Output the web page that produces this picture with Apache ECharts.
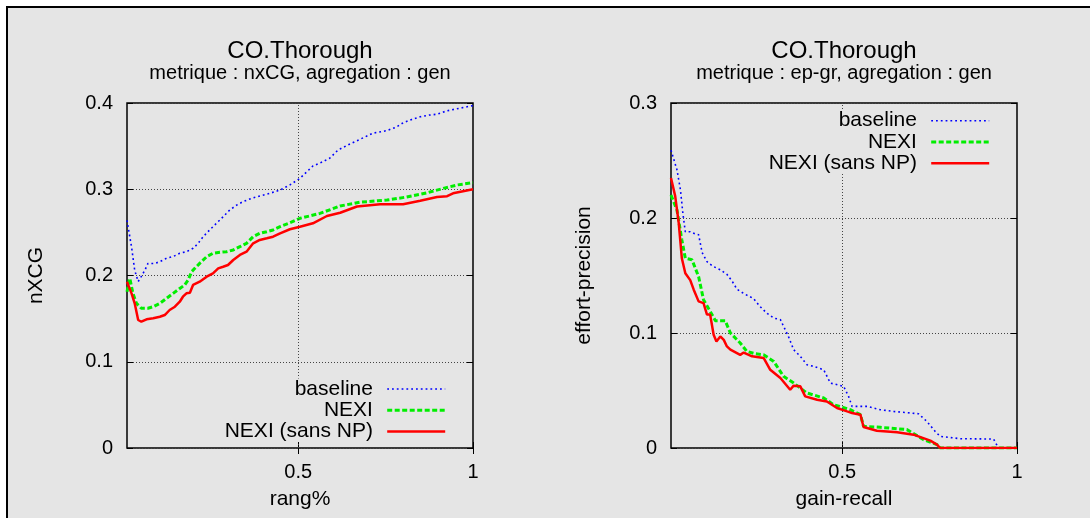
<!DOCTYPE html>
<html><head><meta charset="utf-8">
<script src="https://cdn.jsdelivr.net/npm/echarts@6/dist/echarts.min.js"></script>
<style>html,body{margin:0;padding:0;background:#fff}#c{width:1090px;height:518px}</style>
</head><body><div id="c"></div><script>
// ---------- data ----------
const seriesNames = ['baseline', 'NEXI', 'NEXI (sans NP)'];
const xTickValues = [0.5, 1];
const leftTitle = 'CO.Thorough';
const leftSubtitle = 'metrique : nxCG, agregation : gen';
const rightTitle = 'CO.Thorough';
const rightSubtitle = 'metrique : ep-gr, agregation : gen';
const leftXName = 'rang%';
const leftYName = 'nXCG';
const rightXName = 'gain-recall';
const rightYName = 'effort-precision';

const nxcgBaseline = [[0.01,0.264],[0.023,0.233],[0.032,0.206],[0.042,0.193],[0.051,0.199],[0.061,0.206],[0.07,0.214],[0.089,0.214],[0.104,0.216],[0.123,0.22],[0.142,0.222],[0.161,0.2257],[0.18,0.2276],[0.199,0.2315],[0.213,0.237],[0.228,0.245],[0.247,0.253],[0.266,0.2605],[0.285,0.268],[0.304,0.276],[0.324,0.2817],[0.342,0.2856],[0.367,0.2895],[0.39,0.2922],[0.419,0.2953],[0.448,0.2991],[0.476,0.305],[0.505,0.3127],[0.542,0.327],[0.565,0.331],[0.59,0.336],[0.614,0.3455],[0.645,0.352],[0.677,0.358],[0.714,0.365],[0.754,0.368],[0.78,0.372],[0.80,0.377],[0.825,0.381],[0.849,0.384],[0.875,0.386],[0.897,0.387],[0.926,0.391],[0.963,0.394],[1.0,0.397]];
const nxcgNexi = [[0.01,0.1812],[0.018,0.1967],[0.027,0.1793],[0.037,0.1677],[0.051,0.162],[0.07,0.162],[0.085,0.1638],[0.104,0.1677],[0.123,0.1735],[0.142,0.1793],[0.161,0.185],[0.175,0.189],[0.185,0.1948],[0.195,0.2044],[0.204,0.2083],[0.218,0.2141],[0.238,0.2218],[0.256,0.2257],[0.276,0.2269],[0.295,0.2276],[0.314,0.2296],[0.333,0.2334],[0.352,0.2373],[0.371,0.245],[0.39,0.2489],[0.41,0.2508],[0.428,0.2528],[0.448,0.2566],[0.476,0.2612],[0.505,0.2663],[0.562,0.272],[0.62,0.2806],[0.677,0.285],[0.754,0.2875],[0.81,0.291],[0.87,0.296],[0.915,0.301],[0.955,0.305],[1.0,0.3076]];
const nxcgNexiSansNP = [[0.01,0.1928],[0.023,0.1793],[0.032,0.1677],[0.042,0.1484],[0.051,0.1464],[0.066,0.1492],[0.085,0.1504],[0.104,0.1522],[0.118,0.1542],[0.132,0.16],[0.147,0.1638],[0.161,0.1696],[0.17,0.1754],[0.18,0.1793],[0.19,0.18],[0.199,0.189],[0.218,0.1928],[0.238,0.1986],[0.256,0.2025],[0.271,0.2083],[0.285,0.2102],[0.299,0.2122],[0.314,0.218],[0.333,0.2238],[0.352,0.2276],[0.371,0.2373],[0.39,0.2412],[0.41,0.2431],[0.428,0.245],[0.448,0.2489],[0.476,0.2536],[0.505,0.2566],[0.542,0.2605],[0.582,0.269],[0.62,0.2728],[0.668,0.28],[0.734,0.2825],[0.80,0.2825],[0.849,0.2867],[0.897,0.291],[0.926,0.292],[0.943,0.2953],[1.0,0.2999]];

const epBaseline = [[0.01,0.259],[0.027,0.242],[0.037,0.2246],[0.044,0.204],[0.051,0.188],[0.065,0.188],[0.08,0.186],[0.089,0.1855],[0.099,0.17],[0.113,0.162],[0.13,0.158],[0.151,0.155],[0.17,0.151],[0.185,0.145],[0.199,0.138],[0.22,0.134],[0.246,0.130],[0.265,0.123],[0.285,0.117],[0.304,0.113],[0.323,0.1116],[0.346,0.097],[0.361,0.0855],[0.38,0.0797],[0.399,0.0724],[0.418,0.071],[0.447,0.068],[0.466,0.0565],[0.504,0.0536],[0.518,0.0449],[0.528,0.0362],[0.571,0.0362],[0.609,0.0333],[0.647,0.0318],[0.718,0.0298],[0.742,0.0231],[0.766,0.0144],[0.78,0.0101],[0.838,0.0081],[0.933,0.0078],[0.947,0],[1,0]];
const epNexi = [[0.01,0.22],[0.027,0.207],[0.041,0.181],[0.051,0.165],[0.07,0.1637],[0.089,0.149],[0.103,0.129],[0.122,0.1188],[0.137,0.1107],[0.165,0.1107],[0.18,0.1],[0.208,0.0913],[0.227,0.084],[0.25,0.082],[0.275,0.0811],[0.304,0.0753],[0.332,0.0623],[0.361,0.0565],[0.399,0.0478],[0.447,0.0435],[0.475,0.0377],[0.523,0.0333],[0.552,0.029],[0.561,0.0188],[0.609,0.018],[0.685,0.016],[0.733,0.0072],[0.771,0.003],[0.78,0],[1,0]];
const epNexiSansNP = [[0.01,0.2348],[0.022,0.219],[0.032,0.196],[0.041,0.165],[0.051,0.152],[0.065,0.146],[0.075,0.1377],[0.089,0.1275],[0.103,0.126],[0.113,0.116],[0.122,0.116],[0.132,0.0985],[0.14,0.0927],[0.151,0.097],[0.161,0.094],[0.17,0.0883],[0.18,0.0855],[0.208,0.081],[0.218,0.083],[0.242,0.0797],[0.275,0.0783],[0.294,0.068],[0.323,0.0609],[0.351,0.0507],[0.361,0.0542],[0.38,0.0536],[0.394,0.0449],[0.428,0.042],[0.456,0.0405],[0.485,0.0348],[0.514,0.0318],[0.528,0.0304],[0.552,0.029],[0.561,0.0183],[0.599,0.015],[0.657,0.0136],[0.704,0.0116],[0.752,0.0064],[0.771,0.003],[0.78,0],[1,0]];

// ---------- styles ----------
const FONT = '"Liberation Sans", Arial, Helvetica, sans-serif';
const BG = '#e5e5e5';
const GRIDLINE = {color:'#444', width:1, type:[1,2]};
const lineStyles = [
  {color:'#0000ff', width:1.6, type:[1.8,3]},
  {color:'#00ee00', width:3, type:[5,2.5]},
  {color:'#ff0000', width:2.5, type:'solid'}
];

const grids = [
  {left:127, top:103, width:346, height:345},
  {left:671, top:103, width:346, height:345}
];
const panels = [
  {title:leftTitle, sub:leftSubtitle, xName:leftXName, yName:leftYName, yMax:0.4, yGap:80, data:[nxcgBaseline,nxcgNexi,nxcgNexiSansNP],
   legend:{right:1090-446.7, top:378.5}},
  {title:rightTitle, sub:rightSubtitle, xName:rightXName, yName:rightYName, yMax:0.3, yGap:76, data:[epBaseline,epNexi,epNexiSansNP],
   legend:{right:1090-990.7, top:110.2}}
];

const option = {
  animation:false,
  backgroundColor:'#fff',
  graphic:[{type:'rect', z:-100, shape:{x:7, y:7, width:1200, height:700}, style:{fill:BG, stroke:'#000', lineWidth:2}}],
  title:[], grid:[], xAxis:[], yAxis:[], series:[], legend:[]
};

panels.forEach((p,i)=>{
  const g = grids[i];
  option.title.push({text:p.title, subtext:p.sub, left:g.left+g.width/2, top:39, textAlign:'center', padding:0, itemGap:0,
    textStyle:{fontSize:24, fontWeight:'normal', color:'#000', fontFamily:FONT},
    subtextStyle:{fontSize:20, color:'#000', fontFamily:FONT}});
  option.grid.push(Object.assign({show:true, borderColor:'#000', borderWidth:1.5, backgroundColor:'transparent'}, g));
  option.xAxis.push({gridIndex:i, type:'value', min:0.01, max:1, name:p.xName, nameLocation:'middle', nameGap:41,
    nameTextStyle:{fontSize:21, color:'#000', fontFamily:FONT},
    axisLine:{show:false}, splitLine:{show:false},
    axisTick:{show:true, inside:true, length:6, customValues:xTickValues, lineStyle:{color:'#000', width:1}},
    axisLabel:{customValues:xTickValues, margin:14, fontSize:20, color:'#000', fontFamily:FONT}});
  option.xAxis.push({gridIndex:i, type:'value', position:'top', min:0.01, max:1,
    axisLine:{show:false}, splitLine:{show:false}, axisLabel:{show:false},
    axisTick:{show:true, inside:true, length:6, customValues:xTickValues, lineStyle:{color:'#000', width:1}}});
  option.yAxis.push({gridIndex:i, type:'value', min:0, max:p.yMax, interval:0.1, name:p.yName, nameLocation:'middle', nameRotate:90, nameGap:p.yGap,
    nameTextStyle:{fontSize:21, color:'#000', fontFamily:FONT},
    axisLine:{show:false},
    axisTick:{show:true, inside:true, length:6, lineStyle:{color:'#000', width:1}},
    axisLabel:{margin:14, fontSize:20, color:'#000', fontFamily:FONT},
    splitLine:{show:true, lineStyle:GRIDLINE}});
  option.yAxis.push({gridIndex:i, type:'value', position:'right', min:0, max:p.yMax, interval:0.1,
    axisLine:{show:false}, axisLabel:{show:false}, splitLine:{show:false},
    axisTick:{show:true, inside:true, length:6, lineStyle:{color:'#000', width:1}}});
  p.data.forEach((d,k)=>{
    const s = {type:'line', name:seriesNames[k], xAxisIndex:2*i, yAxisIndex:2*i, data:d,
      symbol:'none', showSymbol:false, lineStyle:lineStyles[k], itemStyle:{color:lineStyles[k].color}, z:2+k};
    if(k===0){
      s.markLine = {silent:true, symbol:'none', label:{show:false}, lineStyle:GRIDLINE, animation:false, data:[{xAxis:0.5}]};
    }
    option.series.push(s);
  });
  option.legend.push({data:seriesNames, orient:'vertical', align:'right', right:p.legend.right, top:p.legend.top,
    itemWidth:58, itemHeight:14, itemGap:0.3, padding:0, backgroundColor:BG, selectedMode:false, z:10,
    lineStyle:{width:'inherit'},
    itemStyle:{color:'rgba(0,0,0,0)', borderColor:'rgba(0,0,0,0)', borderWidth:0, opacity:0},
    textStyle:{fontSize:21, lineHeight:21, color:'#000', fontFamily:FONT, padding:[0,9.3,0,0]}});
});

const chart = echarts.init(document.getElementById('c'), null, {renderer:'canvas'});
chart.setOption(option);
</script></body></html>
